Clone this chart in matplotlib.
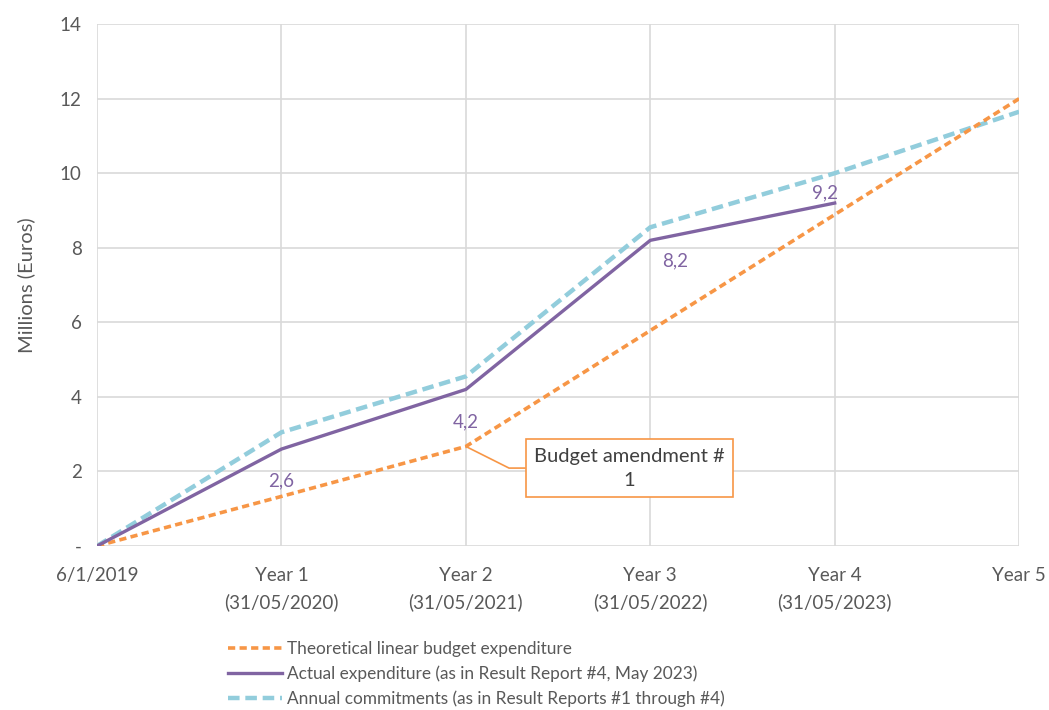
import matplotlib.pyplot as plt
import numpy as np

plt.rcParams['font.family'] = ['Lato', 'DejaVu Sans']

ticks = ['6/1/2019', 'Year 1\n(31/05/2020)', 'Year 2\n(31/05/2021)',
         'Year 3\n(31/05/2022)', 'Year 4\n(31/05/2023)', 'Year 5']
theoretical = [0, 1.33, 2.67, 5.78, 8.89, 12.0]
actual = [0, 2.6, 4.2, 8.2, 9.2]
commitments = [0, 3.05, 4.55, 8.55, 10.0, 11.65]
actual_labels = ['2,6', '4,2', '8,2', '9,2']

grey = '#595959'
orange = '#F79646'
purple = '#8064A2'
cyan = '#92CDDC'

fig = plt.figure(figsize=(10.49, 7.10), dpi=100)
ax = fig.add_axes([0.0925, 0.231, 0.879, 0.735])

x = np.arange(len(ticks))
ax.plot(x, theoretical, color=orange, lw=2.6, dashes=(2.0, 1.2),
        label='Theoretical linear budget expenditure', zorder=3)
ax.plot(x[:len(actual)], actual, color=purple, lw=2.4,
        label='Actual expenditure (as in Result Report #4, May 2023)', zorder=4)
ax.plot(x, commitments, color=cyan, lw=3.2, dashes=(2.6, 1.3),
        label='Annual commitments (as in Result Reports #1 through #4)', zorder=2)

# data labels on actual expenditure
offsets = [(0, -23), (0, -23), (18, -15), (-7, 7)]
for i, (lab, off) in enumerate(zip(actual_labels, offsets)):
    ax.annotate(lab, (x[i + 1], actual[i + 1]), xytext=off, textcoords='offset points',
                ha='center', va='center', color=purple, fontsize=13.5)

ax.annotate('Budget amendment #\n1', xy=(x[2], theoretical[2]), xytext=(2.887, 2.09),
            ha='center', va='center', fontsize=14.5, color='#404040', linespacing=1.5,
            bbox=dict(boxstyle='square,pad=0.42', fc='white', ec=orange, lw=1.2),
            arrowprops=dict(arrowstyle='-', color=orange, lw=1.2, shrinkA=0, shrinkB=0,
                            connectionstyle='angle,angleA=0,angleB=-26.6,rad=0'))

ax.set_xlim(0, len(ticks) - 1)
ax.set_ylim(0, 14)
ax.set_xticks(x)
ax.set_xticklabels(ticks, linespacing=1.65)
ax.set_yticks(np.arange(0, 15, 2))
ax.set_yticklabels(['-'] + [str(v) for v in range(2, 15, 2)])
ax.tick_params(axis='both', length=0, labelsize=13.5, colors=grey)
ax.tick_params(axis='x', pad=15)
ax.tick_params(axis='y', pad=11)
ax.grid(True, color='#D9D9D9', lw=1.2)
ax.set_axisbelow(True)
for s in ax.spines.values():
    s.set_visible(False)
ax.set_ylabel('Millions (Euros)', fontsize=14.5, color=grey, labelpad=18)

leg = fig.legend(loc='upper left', bbox_to_anchor=(0.211, 0.107), frameon=False,
                 fontsize=12.4, handlelength=3.1, handletextpad=0.3, labelspacing=0.48,
                 borderaxespad=0)
for t in leg.get_texts():
    t.set_color(grey)

fig.savefig('out.png', dpi=100)
